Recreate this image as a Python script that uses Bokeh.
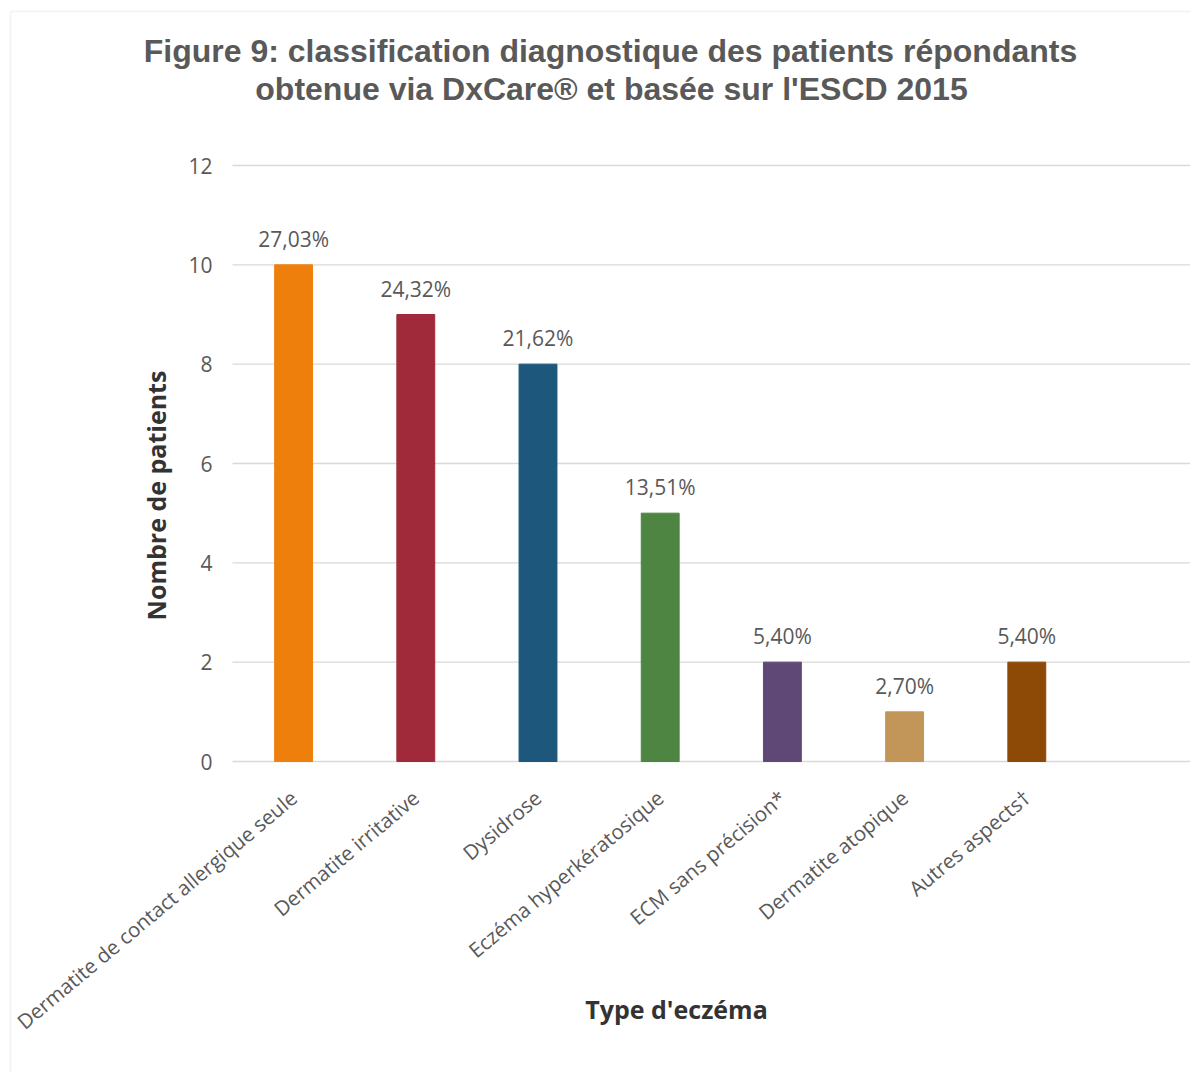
from math import radians, pi
from bokeh.plotting import figure
from bokeh.models import Range1d, FixedTicker, Label, ColumnDataSource, BoxAnnotation
from bokeh.core.properties import value
from bokeh.embed import file_html
from bokeh.resources import INLINE

# ---- data ----
categories = [
    "Dermatite de contact allergique seule",
    "Dermatite irritative",
    "Dysidrose",
    "Eczéma hyperkératosique",
    "ECM sans précision*",
    "Dermatite atopique",
    "Autres aspects\u2020",
]
counts = [10, 9, 8, 5, 2, 1, 2]
percent_labels = ["27,03%", "24,32%", "21,62%", "13,51%", "5,40%", "2,70%", "5,40%"]
bar_colors = ["#EF7F0C", "#A0293A", "#1D577B", "#4E8542", "#5F4876", "#C29659", "#8D4A07"]
y_ticks = [0, 2, 4, 6, 8, 10, 12]

title_line1 = "Figure 9: classification diagnostique des patients répondants"
title_line2 = "obtenue via DxCare\u00ae et basée sur l'ESCD 2015"
y_title = "Nombre de patients"
x_title = "Type d'eczéma"

positions = list(range(len(categories)))

# ---- layout geometry (pixels) ----
W, H = 1190, 1072
plot_left, plot_top, plot_bottom = 232, 165, 761
cat_px = 122.2
unit_px = (plot_bottom - plot_top) / 12.0

x_start = -0.5 - plot_left / cat_px
x_end = -0.5 + (W - plot_left) / cat_px
y_end = 12 + plot_top / unit_px
y_start = -(H - plot_bottom) / unit_px

source = ColumnDataSource(dict(x=positions, counts=counts, pct=percent_labels, color=bar_colors))

p = figure(
    width=W, height=H,
    x_range=Range1d(x_start, x_end), y_range=Range1d(y_start, y_end),
    output_backend="svg", toolbar_location=None,
    min_border=0, min_border_left=0, min_border_right=0, min_border_top=0, min_border_bottom=0,
)
p.title.text = ""
p.outline_line_color = None
p.background_fill_color = "white"
p.border_fill_color = "white"
p.xgrid.grid_line_color = None
p.ygrid.grid_line_color = None

# chart border (top & left visible)
p.add_layout(BoxAnnotation(left=10, right=W + 100, top=H - 11, bottom=-100,
                           left_units="screen", right_units="screen",
                           top_units="screen", bottom_units="screen",
                           fill_color=None, line_color="#d9d9d9", line_width=2))

# gridlines
p.segment(x0=[-0.5] * len(y_ticks), x1=[x_end] * len(y_ticks), y0=y_ticks, y1=y_ticks,
          line_color="#d9d9d9", line_width=1.3)

p.vbar(x="x", top="counts", width=0.31, color="color", source=source)
p.text(x="x", y="counts", text="pct", source=source,
       text_align="center", text_baseline="alphabetic", y_offset=-26,
       text_font=value("Open Sans"), text_font_size="21px", text_color="#595959")

# y axis
p.yaxis.fixed_location = -0.5
p.yaxis.ticker = FixedTicker(ticks=y_ticks)
p.yaxis.axis_line_color = None
p.yaxis.major_tick_line_color = None
p.yaxis.minor_tick_line_color = None
p.yaxis.major_tick_out = 0
p.yaxis.major_label_standoff = 20
p.yaxis.major_label_text_font = "Open Sans"
p.yaxis.major_label_text_font_size = "21px"
p.yaxis.major_label_text_color = "#595959"

# x axis
p.xaxis.fixed_location = 0
p.xaxis.ticker = FixedTicker(ticks=positions)
p.xaxis.major_label_overrides = {i: c for i, c in enumerate(categories)}
p.xaxis.axis_line_color = None
p.xaxis.major_tick_line_color = None
p.xaxis.minor_tick_line_color = None
p.xaxis.major_tick_out = 0
p.xaxis.major_label_orientation = radians(40)
p.xaxis.major_label_standoff = 33
p.xaxis.major_label_text_font = "Open Sans"
p.xaxis.major_label_text_font_size = "20.5px"
p.xaxis.major_label_text_color = "#595959"

# titles (screen units, origin at bottom-left of the plot area)
for txt, sx, sy in [(title_line1, 610, H - 50), (title_line2, 611, H - 88)]:
    p.add_layout(Label(x=sx, y=sy, x_units="screen", y_units="screen", text=txt,
                       text_align="center", text_baseline="middle",
                       text_font="Liberation Sans", text_font_style="bold",
                       text_font_size="32px", text_color="#595959"))

p.add_layout(Label(x=155, y=H - 495, x_units="screen", y_units="screen", text=y_title,
                   angle=pi / 2, text_align="center", text_baseline="middle",
                   text_font="Open Sans", text_font_style="bold",
                   text_font_size="25px", text_color="#333333"))
p.add_layout(Label(x=676, y=H - 1008, x_units="screen", y_units="screen", text=x_title,
                   text_align="center", text_baseline="middle",
                   text_font="Open Sans", text_font_style="bold",
                   text_font_size="25px", text_color="#333333"))

open("out.html", "w").write(file_html(p, INLINE))
